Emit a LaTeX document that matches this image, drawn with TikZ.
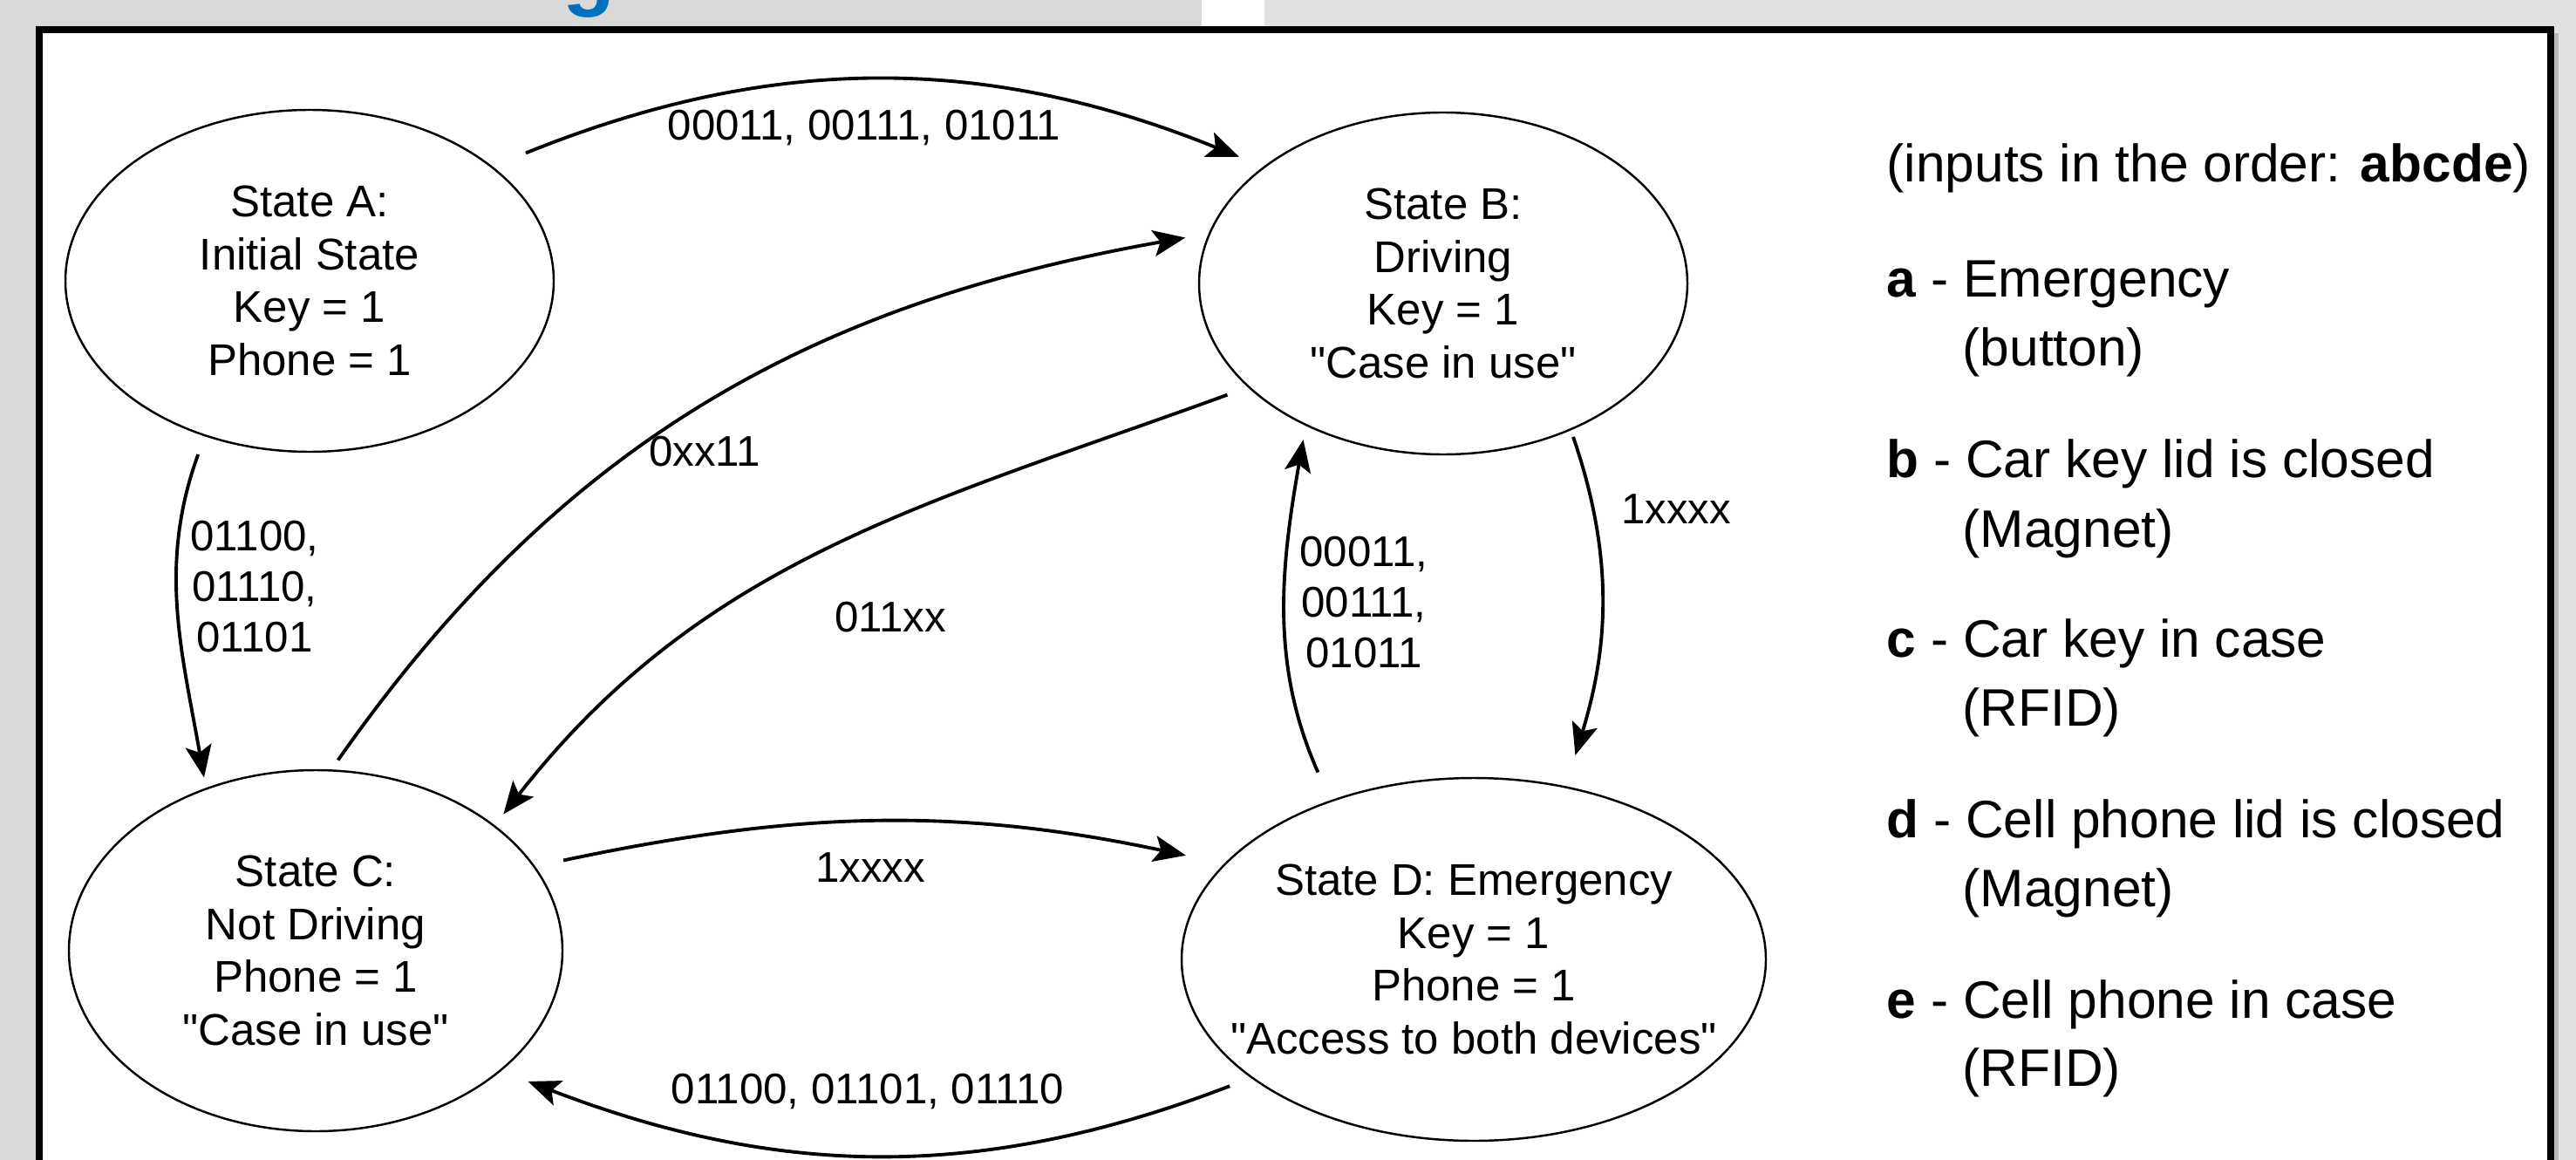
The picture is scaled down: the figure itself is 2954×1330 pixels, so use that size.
\documentclass[tikz,border=0pt]{standalone}
\usepackage{fontspec}
\setmainfont{Liberation Sans}
\usetikzlibrary{arrows.meta,shapes.geometric}
\definecolor{bggray}{HTML}{D9D9D9}
\definecolor{bglight}{HTML}{E0E0E0}
\definecolor{shadowgray}{HTML}{B8B8B8}
\definecolor{titleblue}{HTML}{0070C0}
\newcommand{\dq}{\textquotedbl}
\begin{document}
\begin{tikzpicture}[x=0.1mm,y=0.1mm,
  state/.style={ellipse, draw, line width=0.7pt, inner xsep=-14mm, inner ysep=0pt,
    align=center, font=\fontsize{14.5}{17.3}\selectfont},
  trans/.style={-{Stealth[length=3.7mm,width=3mm,inset=0.8mm]}, line width=1.1pt},
  elabel/.style={font=\fontsize{14}{16.5}\selectfont, align=center, inner sep=0pt},
  legend/.style={anchor=mid west, inner sep=0pt, font=\fontsize{17.2}{22.5}\selectfont}
]
\useasboundingbox (0,0) rectangle (2954,-1330);
\clip (0,0) rectangle (2954,-1330);
% background
\fill[bggray] (0,0) rectangle (2954,-1330);
\fill[white] (1378,0) rectangle (1450,-30);
\fill[bglight] (1450,0) rectangle (2954,-30);
\fill[bglight] (2929,-30) rectangle (2954,-1330);
\fill[shadowgray] (2929,-38) rectangle (2934,-1330);
\node[anchor=base west, text=titleblue, font=\fontsize{28}{34}\selectfont\bfseries, inner sep=0pt] (titleg) at (645,0) {g};
% frame
\fill[white] (45,-34) rectangle (2925,-1340);
\draw[line width=0.8mm] (45,-1340) -- (45,-34) -- (2925,-34) -- (2925,-1340);

% states
\node[state, minimum width=56mm, minimum height=39.2mm] (A) at (355,-322)
  {State A:\\Initial State\\Key = 1\\Phone = 1};
\node[state, minimum width=56mm, minimum height=39.2mm] (B) at (1655,-325)
  {State B:\\Driving\\Key = 1\\\dq Case in use\dq};
\node[state, minimum width=56.6mm, minimum height=41.4mm] (C) at (362,-1090)
  {State C:\\Not Driving\\Phone = 1\\\dq Case in use\dq};
\node[state, minimum width=67mm, minimum height=41.6mm] (D) at (1690,-1100)
  {State D: Emergency\\Key = 1\\Phone = 1\\\dq Access to both devices\dq};

% transitions
\draw[trans, shorten <=4.1mm, shorten >=3.0mm] (A.32.5) to[out=22, in=158] (B.147.9);
\draw[trans, shorten <=1.3mm, shorten >=2.7mm] (C.85.1) to[out=55, in=190] (B.168.5);
\draw[trans, shorten <=2.5mm, shorten >=1.6mm] (B.208.8) to[out=200, in=52] (C.35.5);
\draw[trans, shorten <=3.3mm, shorten >=4.5mm] (C.21.9) to[out=12, in=168] (D.159.7);
\draw[trans, shorten <=2.6mm, shorten >=3.3mm] (D.208.7) to[out=201, in=-21] (C.-33.8);
\draw[trans, shorten <=2.2mm, shorten >=1.2mm] (A.236.7) to[out=250, in=100] (C.124.1);
\draw[trans, shorten <=3.5mm, shorten >=1.6mm] (D.132.2) to[out=114, in=-100] (B.226.2);
\draw[trans, shorten <=0.8mm, shorten >=3.7mm] (B.-49.2) to[out=-71, in=73] (D.62.1);

% transition labels
\node[elabel] (l1) at (991,-146) {00011, 00111, 01011};
\node[elabel] (l2) at (808,-518) {0xx11};
\node[elabel] (l3) at (1021,-708) {011xx};
\node[elabel] (l4) at (998,-995) {1xxxx};
\node[elabel] (l5) at (995,-1251) {01100, 01101, 01110};
\node[elabel] (l6) at (292,-673) {01100,\\01110,\\01101};
\node[elabel] (l7) at (1564,-691) {00011,\\00111,\\01011};
\node[elabel] (l8) at (1922,-584) {1xxxx};

% legend
\node[legend] (hdr) at (2163,-199) {(inputs in the order: \textbf{abcde})};
\node[legend] (ka) at (2163,-331) {\textbf{a} - Emergency};
\node[legend] (ka2) at (2250,-410) {(button)};
\node[legend] (kb) at (2163,-538) {\textbf{b} - Car key lid is closed};
\node[legend] (kb2) at (2250,-618) {(Magnet)};
\node[legend] (kc) at (2163,-744) {\textbf{c} - Car key in case};
\node[legend] (kc2) at (2250,-823) {(RFID)};
\node[legend] (kd) at (2163,-951) {\textbf{d} - Cell phone lid is closed};
\node[legend] (kd2) at (2250,-1030) {(Magnet)};
\node[legend] (ke) at (2163,-1158) {\textbf{e} - Cell phone in case};
\node[legend] (ke2) at (2250,-1236) {(RFID)};
\end{tikzpicture}
\end{document}
